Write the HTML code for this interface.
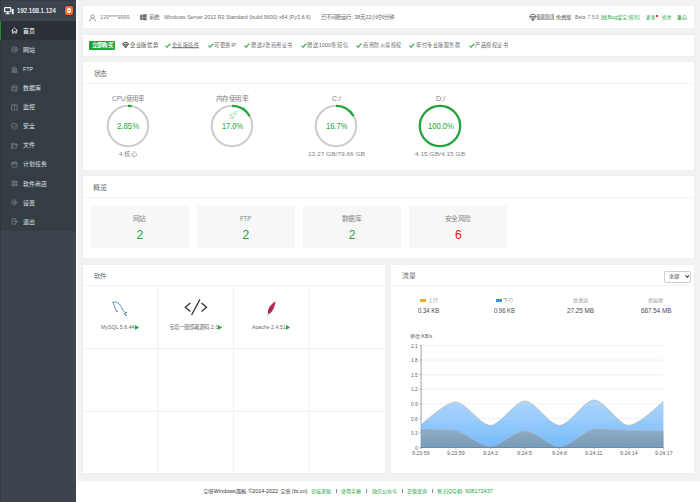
<!DOCTYPE html>
<html lang="zh-CN">
<head>
<meta charset="utf-8">
<title>宝塔Windows面板</title>
<style>
*{box-sizing:border-box;margin:0;padding:0}
html,body{width:700px;height:502px;overflow:hidden;background:#f2f2f2;font-family:"Liberation Sans",sans-serif;color:#666}
body{position:relative;font-size:5.4px;line-height:1}
.abs{position:absolute}
.t{position:absolute;white-space:nowrap;line-height:1;transform-origin:0 50%;text-align:justify;text-align-last:justify}

#side{position:absolute;left:0;top:0;width:76px;height:502px;background:#3c444d}
#side .menu{position:absolute;left:0;top:21.3px;width:76px;height:209.9px;background:#353d44}
#side .cur{position:absolute;left:0;top:21.3px;width:76px;height:19.1px;background:#2c3138;border-left:1.2px solid #20a53a}
.strip{position:absolute;left:76px;top:0;width:2px;height:502px;background:#fbfbfb}
.card{position:absolute;background:#fff;box-shadow:0 .4px 1.2px rgba(0,0,0,.07)}
.hl{position:absolute;height:1px;background:#f4f4f4}
svg{position:absolute;overflow:visible}
</style>
</head>
<body>
<aside aria-label="侧边栏">
<div id="side"><div class="menu"></div><div class="cur"></div><div class="abs" style="left:0;top:0;width:76px;height:1px;background:#353c43"></div><div class="abs" style="left:0;top:0;width:1px;height:502px;background:rgba(0,0,0,.13)"></div></div>
<div class="strip"></div>
<svg style="left:3.9px;top:6.7px" width="9.8" height="7.4" viewBox="0 0 19.6 14.8" fill="none" stroke="#fff" stroke-width="2.300"><rect x="1.200" y="1.200" width="12.400" height="8.400" rx="1.200"/><path d="M3.400 13.600h8M7.400 9.800v3.600"/><rect x="15.600" y="4.200" width="3.600" height="10.400" rx=".6" fill="#fff" stroke="none"/></svg>
<div class="t" style="left:17.2px;top:9.7px;width:44.79px;font-size:7px;color:#fff;transform:translateY(-50%) scaleX(0.867);-webkit-text-stroke:.12px #fff">192.168.1.124</div>
<div class="abs" style="left:64.9px;top:6.1px;width:8.6px;height:8.6px;border-radius:2px;background:#fc6d26;box-shadow:0 0 0 .7px #2b3540"></div>
<div class="abs" style="left:67px;top:8.200px;width:4.400px;height:4.400px;border-radius:50%;background:#fff"></div>
<div class="abs" style="left:68.300px;top:9.900px;width:1.800px;height:1px;border-radius:.5px;background:#fb6a3a"></div>
<div class="t" style="left:23.3px;top:30.9px;width:12.02px;font-size:6px;color:#fff;transform:translateY(-50%) scaleX(0.992);">首页</div>
<div class="t" style="left:23.3px;top:49.98px;width:12.02px;font-size:6px;color:#dfe2e5;transform:translateY(-50%) scaleX(0.992);">网站</div>
<div class="t" style="left:23.3px;top:69.06px;width:11.36px;font-size:6px;color:#dfe2e5;transform:translateY(-50%) scaleX(0.873);">FTP</div>
<div class="t" style="left:23.3px;top:88.14px;width:18.02px;font-size:6px;color:#dfe2e5;transform:translateY(-50%) scaleX(0.989);">数据库</div>
<div class="t" style="left:23.3px;top:107.22px;width:12.02px;font-size:6px;color:#dfe2e5;transform:translateY(-50%) scaleX(0.992);">监控</div>
<div class="t" style="left:23.3px;top:126.3px;width:12.02px;font-size:6px;color:#dfe2e5;transform:translateY(-50%) scaleX(0.992);">安全</div>
<div class="t" style="left:23.3px;top:145.38px;width:12.02px;font-size:6px;color:#dfe2e5;transform:translateY(-50%) scaleX(0.992);">文件</div>
<div class="t" style="left:23.3px;top:164.46px;width:24.02px;font-size:6px;color:#dfe2e5;transform:translateY(-50%) scaleX(0.983);">计划任务</div>
<div class="t" style="left:23.3px;top:183.54px;width:24.02px;font-size:6px;color:#dfe2e5;transform:translateY(-50%) scaleX(0.983);">软件商店</div>
<div class="t" style="left:23.3px;top:202.62px;width:12.02px;font-size:6px;color:#dfe2e5;transform:translateY(-50%) scaleX(0.992);">设置</div>
<div class="t" style="left:23.3px;top:221.7px;width:12.02px;font-size:6px;color:#dfe2e5;transform:translateY(-50%) scaleX(0.992);">退出</div>
<svg style="left:11.300px;top:27.40px" width="7" height="7" viewBox="0 0 14 14" fill="none" stroke="#fff" stroke-width="1.4" stroke-linejoin="round" stroke-linecap="round"><path d="M1.300 7.200 7 1.600 12.700 7.200M3.100 6.200V12.300H5.600V8.800H8.400V12.300H10.900V6.200"/></svg>
<svg style="left:11.300px;top:46.48px" width="7" height="7" viewBox="0 0 14 14" fill="none" stroke="#878d93" stroke-width="1.3" stroke-linejoin="round" stroke-linecap="round"><circle cx="7" cy="7" r="5.700"/><circle cx="7" cy="7" r="2.400"/></svg>
<svg style="left:11.300px;top:65.56px" width="7" height="7" viewBox="0 0 14 14" fill="none" stroke="#878d93" stroke-width="1.3" stroke-linejoin="round" stroke-linecap="round"><path d="M1.500 12.500h11M2.500 10.500h9M3.500 10V6.500M7 10V6.500M10.500 10V6.500M2.500 6h9L7 1.800z"/></svg>
<svg style="left:11.300px;top:84.64px" width="7" height="7" viewBox="0 0 14 14" fill="none" stroke="#878d93" stroke-width="1.3" stroke-linejoin="round" stroke-linecap="round"><rect x="1.600" y="1.600" width="10.800" height="10.800" rx="2.600"/><path d="M3.800 5.200h6.400M3.800 8.800h6.400"/></svg>
<svg style="left:11.300px;top:103.72px" width="7" height="7" viewBox="0 0 14 14" fill="none" stroke="#878d93" stroke-width="1.3" stroke-linejoin="round" stroke-linecap="round"><path stroke-linejoin="miter" d="M1.800 1.800h10.400v10.400H1.800zM7 2v6.200"/></svg>
<svg style="left:11.300px;top:122.80px" width="7" height="7" viewBox="0 0 14 14" fill="none" stroke="#878d93" stroke-width="1.3" stroke-linejoin="round" stroke-linecap="round"><path stroke-linejoin="miter" d="M7 1.200 12.300 2.900V7.400C12.300 10 10 11.900 7 13 4 11.900 1.700 10 1.700 7.400V2.900z"/><path d="M4.600 7l1.900 1.900 3.100-3.600"/></svg>
<svg style="left:11.300px;top:141.88px" width="7" height="7" viewBox="0 0 14 14" fill="none" stroke="#878d93" stroke-width="1.3" stroke-linejoin="round" stroke-linecap="round"><path d="M1.500 11.500v-9h4l1.200 1.600h5.800v1.600M1.500 11.500l1.800-5.800h9.500l-1.800 5.800z"/></svg>
<svg style="left:11.300px;top:160.96px" width="7" height="7" viewBox="0 0 14 14" fill="none" stroke="#878d93" stroke-width="1.3" stroke-linejoin="round" stroke-linecap="round"><rect x="1.800" y="2.800" width="10.400" height="9.400" rx="1.500"/><path d="M1.800 5.800h10.400M4.500 1.500v2.300M9.500 1.500v2.300"/></svg>
<svg style="left:11.300px;top:180.04px" width="7" height="7" viewBox="0 0 14 14" fill="none" stroke="#878d93" stroke-width="1.3" stroke-linejoin="round" stroke-linecap="round"><circle cx="4" cy="4" r="2.300"/><circle cx="10" cy="4" r="2.300"/><circle cx="4" cy="10" r="2.300"/><circle cx="10" cy="10" r="2.300"/></svg>
<svg style="left:11.300px;top:199.12px" width="7" height="7" viewBox="0 0 14 14" fill="none" stroke="#878d93" stroke-width="1.3" stroke-linejoin="round" stroke-linecap="round"><path d="M7 1.300 12.700 7 7 12.700 1.300 7z"/><circle cx="7" cy="7" r="2.200"/></svg>
<svg style="left:11.300px;top:218.20px" width="7" height="7" viewBox="0 0 14 14" fill="none" stroke="#878d93" stroke-width="1.3" stroke-linejoin="round" stroke-linecap="round"><path d="M9 4.200V1.600H2.200v10.800H9V9.800M5.800 7h7M10.800 5l2 2-2 2"/></svg>
</aside>
<header aria-label="系统信息">
<div class="card" style="left:82.8px;top:6px;width:611.0px;height:22px"></div>
<svg style="left:89px;top:13.6px" width="7" height="7.6" viewBox="0 0 14 15.2" fill="none" stroke="#7a7a7a" stroke-width="1.500"><circle cx="7" cy="5" r="3.600"/><path d="M1 14.500c.6-4 3-5.800 6-5.800s5.400 1.800 6 5.800"/></svg>
<div class="t" style="left:99.9px;top:17.6px;width:30.50px;font-size:5.6px;color:#808080;transform:translateY(-50%) scaleX(0.964);">139****9999</div>
<svg style="left:139.6px;top:14.2px" width="6.600" height="6.600" viewBox="0 0 12 12" fill="#6e6e6e"><path d="M0 1.700 4.900 1v4.700H0zM5.500 .9 12 0v5.700H5.500zM0 6.300h4.900V11L0 10.300zM5.500 6.300H12V12l-6.500-.9z"/></svg>
<div class="t" style="left:148.5px;top:17.6px;width:11.52px;font-size:5.4px;color:#6b6b6b;transform:translateY(-50%);">系统:</div>
<div class="t" style="left:163.6px;top:17.6px;width:156.21px;font-size:5.7px;color:#6b6b6b;transform:translateY(-50%) scaleX(0.939);">Windows Server 2012 R2 Standard (build 9600) x64 (Py3.8.6)</div>
<div class="t" style="left:320.8px;top:17.6px;width:73.02px;font-size:5.4px;color:#6b6b6b;transform:translateY(-50%) scaleX(1.007);">已不间断运行: 38天22小时6分钟</div>
<svg style="left:529px;top:13.600px" width="7.800" height="7.400" viewBox="0 0 16 15.600" fill="none" stroke="#6a6a6a" stroke-width="1.800" stroke-linejoin="round"><path d="M4 1h8l3.200 4.200L8 14.500.8 5.200z"/><path d="M.8 5.200h14.400M5.600 5.200 8 14M10.400 5.200 8 14"/></svg>
<div class="abs" style="left:536.6px;top:14.4px;width:17.4px;height:5.800px;background:#a8a8a8;border-radius:.6px"></div>
<div class="t" style="left:538.2px;top:17.4px;width:15.02px;font-size:4.8px;color:#fff;transform:translateY(-50%) scaleX(0.960);">专业版</div>
<div class="t" style="left:556px;top:17.6px;width:15.02px;font-size:5.1px;color:#555;transform:translateY(-50%) scaleX(1.027);">免费版</div>
<div class="t" style="left:575.4px;top:17.6px;width:26.10px;font-size:5.4px;color:#6b6b6b;transform:translateY(-50%) scaleX(0.913);">Beta&nbsp; 7.5.0</div>
<div class="t" style="left:601px;top:17.6px;width:36.93px;font-size:5.1px;color:#20a53a;transform:translateY(-50%) scaleX(1.043);">[找Bug奖宝塔币]</div>
<div class="t" style="left:645.7px;top:17.6px;width:10.02px;font-size:4.8px;color:#20a53a;transform:translateY(-50%) scaleX(0.930);">更新</div>
<div class="abs" style="left:656px;top:15px;width:1.600px;height:1.600px;border-radius:50%;background:#f00"></div>
<div class="t" style="left:661.5px;top:17.6px;width:10.02px;font-size:4.9px;color:#20a53a;transform:translateY(-50%) scaleX(0.970);">修复</div>
<div class="t" style="left:677.3px;top:17.6px;width:10.02px;font-size:4.9px;color:#20a53a;transform:translateY(-50%) scaleX(0.990);">重启</div>
</header>
<section aria-label="企业版优势">
<div class="card" style="left:82.8px;top:34.800px;width:611.0px;height:21.300px"></div>
<div class="abs" style="left:89.2px;top:41.2px;width:25.400px;height:9.100px;background:#20a53a;border-radius:.8px"></div>
<div class="t" style="left:91.5px;top:45.8px;width:20.02px;font-size:5.3px;color:#fff;transform:translateY(-50%) scaleX(1.045);font-weight:bold">立即购买</div>
<svg style="left:121.700px;top:41.900px" width="7.200" height="6.400" viewBox="0 0 16 15.600" fill="none" stroke="#555" stroke-width="2.300" stroke-linejoin="round"><path d="M4 1h8l3.200 4.200L8 14.500.8 5.200z"/><path d="M.8 5.200h14.400M5.600 5.200 8 14M10.400 5.200 8 14"/></svg>
<div class="t" style="left:130.4px;top:45.7px;width:30.02px;font-size:5.7px;color:#555;transform:translateY(-50%) scaleX(0.950);">企业版优势</div>
<svg style="left:165.3px;top:42.900px" width="5.800" height="5" viewBox="0 0 12 10.400" fill="none" stroke="#20a53a" stroke-width="2.200"><path d="M1 5.600 4.300 9 11 1.200"/></svg>
<div class="t" style="left:172.1px;top:45.7px;width:30.02px;font-size:5.5px;color:#6b6b6b;transform:translateY(-50%) scaleX(0.907);text-decoration:underline;text-decoration-thickness:.35px;text-underline-offset:.3px">企业版插件</div>
<svg style="left:207.5px;top:42.900px" width="5.800" height="5" viewBox="0 0 12 10.400" fill="none" stroke="#20a53a" stroke-width="2.200"><path d="M1 5.600 4.300 9 11 1.200"/></svg>
<div class="t" style="left:213.9px;top:45.7px;width:23.22px;font-size:5.5px;color:#6b6b6b;transform:translateY(-50%) scaleX(0.952);">可更换IP</div>
<svg style="left:243.9px;top:42.900px" width="5.800" height="5" viewBox="0 0 12 10.400" fill="none" stroke="#20a53a" stroke-width="2.200"><path d="M1 5.600 4.300 9 11 1.200"/></svg>
<div class="t" style="left:250.8px;top:45.7px;width:45.08px;font-size:5.5px;color:#6b6b6b;transform:translateY(-50%) scaleX(0.928);">赠送2张商用证书</div>
<svg style="left:300.7px;top:42.900px" width="5.800" height="5" viewBox="0 0 12 10.400" fill="none" stroke="#20a53a" stroke-width="2.200"><path d="M1 5.600 4.300 9 11 1.200"/></svg>
<div class="t" style="left:307.1px;top:45.7px;width:42.27px;font-size:5.5px;color:#6b6b6b;transform:translateY(-50%) scaleX(0.989);">赠送1000条短信</div>
<svg style="left:355.7px;top:42.900px" width="5.800" height="5" viewBox="0 0 12 10.400" fill="none" stroke="#20a53a" stroke-width="2.200"><path d="M1 5.600 4.300 9 11 1.200"/></svg>
<div class="t" style="left:362.9px;top:45.7px;width:42.02px;font-size:5.5px;color:#6b6b6b;transform:translateY(-50%) scaleX(0.917);">商用防火墙授权</div>
<svg style="left:409.4px;top:42.900px" width="5.800" height="5" viewBox="0 0 12 10.400" fill="none" stroke="#20a53a" stroke-width="2.200"><path d="M1 5.600 4.300 9 11 1.200"/></svg>
<div class="t" style="left:416.3px;top:45.7px;width:48.02px;font-size:5.5px;color:#6b6b6b;transform:translateY(-50%) scaleX(0.923);">年付专业版服务群</div>
<svg style="left:468.6px;top:42.900px" width="5.800" height="5" viewBox="0 0 12 10.400" fill="none" stroke="#20a53a" stroke-width="2.200"><path d="M1 5.600 4.300 9 11 1.200"/></svg>
<div class="t" style="left:474.9px;top:45.7px;width:36.02px;font-size:5.5px;color:#6b6b6b;transform:translateY(-50%) scaleX(0.936);">产品授权证书</div>
</section>
<section aria-label="状态">
<div class="card" style="left:82.8px;top:62.200px;width:611.0px;height:107.700px"></div>
<div class="hl" style="left:82.8px;top:82.500px;width:611.0px"></div>
<div class="t" style="left:93.5px;top:73.9px;width:12.02px;font-size:6.4px;color:#666;transform:translateY(-50%) scaleX(1.067);">状态</div>
<svg style="left:106.4px;top:103.85px" width="44" height="44" viewBox="-22 -22 44 44" fill="none"><circle r="20.2" stroke="#cdcdcd" stroke-width="2.1"/><path d="M0 -20.2A20.2 20.2 0 0 1 3.60 -19.88" stroke="#20a53a" stroke-width="2.200"/></svg>
<svg style="left:210.3px;top:103.85px" width="44" height="44" viewBox="-22 -22 44 44" fill="none"><circle r="20.2" stroke="#cdcdcd" stroke-width="2.1"/><path d="M0 -20.2A20.2 20.2 0 0 1 17.70 -9.73" stroke="#20a53a" stroke-width="2.200"/></svg>
<svg style="left:314.4px;top:103.85px" width="44" height="44" viewBox="-22 -22 44 44" fill="none"><circle r="20.2" stroke="#cdcdcd" stroke-width="2.1"/><path d="M0 -20.2A20.2 20.2 0 0 1 17.51 -10.06" stroke="#20a53a" stroke-width="2.200"/></svg>
<svg style="left:418.4px;top:103.85px" width="44" height="44" viewBox="-22 -22 44 44" fill="none"><circle r="20.2" stroke="#cdcdcd" stroke-width="2.1"/><circle r="20.2" stroke="#20a53a" stroke-width="2.200"/></svg>
<div class="t" style="left:112.2px;top:98.9px;width:31.32px;font-size:6.3px;color:#858585;transform:translateY(-50%) scaleX(1.026);">CPU使用率</div>
<div class="t" style="left:216px;top:98.9px;width:30.02px;font-size:6.3px;color:#858585;transform:translateY(-50%) scaleX(1.077);">内存使用率</div>
<div class="t" style="left:332px;top:98.9px;width:8.07px;font-size:6.3px;color:#858585;transform:translateY(-50%) scaleX(1.106);">C:/</div>
<div class="t" style="left:435.7px;top:98.9px;width:8.07px;font-size:6.3px;color:#858585;transform:translateY(-50%) scaleX(1.168);">D:/</div>
<div class="t" style="left:117.1px;top:126.1px;width:24.97px;font-size:8.8px;color:#20a53a;transform:translateY(-50%) scaleX(0.886);">2.85%</div>
<div class="t" style="left:222px;top:126.1px;width:24.97px;font-size:8.8px;color:#20a53a;transform:translateY(-50%) scaleX(0.842);">17.0%</div>
<div class="t" style="left:325.7px;top:126.1px;width:24.97px;font-size:8.8px;color:#20a53a;transform:translateY(-50%) scaleX(0.858);">16.7%</div>
<div class="t" style="left:427.7px;top:126.1px;width:29.86px;font-size:8.8px;color:#20a53a;transform:translateY(-50%) scaleX(0.861);">100.0%</div>
<div class="t" style="left:119px;top:153.7px;width:17.04px;font-size:6px;color:#858585;transform:translateY(-50%) scaleX(1.064);">4 核心</div>
<div class="t" style="left:308px;top:153.7px;width:52.40px;font-size:6px;color:#858585;transform:translateY(-50%) scaleX(1.086);">13.27 GB/79.66 GB</div>
<div class="t" style="left:415.1px;top:153.7px;width:45.72px;font-size:6px;color:#858585;transform:translateY(-50%) scaleX(1.094);">4.15 GB/4.15 GB</div>
<svg style="left:228.6px;top:111px" width="8.800" height="8.400" viewBox="0 0 18 17" fill="none" stroke="#8fd19c" stroke-width="1.100" stroke-linejoin="round"><path d="M16.500 .8c-4-.2-7.500 2-10 6l-1 2.200 2.800 2.800 2.200-1c4-2.500 6.200-6 6-10z"/><path d="M6.500 6.800 3 7l-2 2.500 3.500.5M10.200 10.800l-.2 3.500-2.500 2-.5-3.500M4.500 11.500l-2.500 4 4-2.500"/><circle cx="11.800" cy="5.400" r="1.300"/></svg>
</section>
<section aria-label="概览">
<div class="card" style="left:82.8px;top:176.300px;width:611.0px;height:81.700px"></div>
<div class="hl" style="left:82.8px;top:196.500px;width:611.0px"></div>
<div class="t" style="left:93.3px;top:187.5px;width:12.02px;font-size:6.4px;color:#666;transform:translateY(-50%) scaleX(1.100);">概览</div>
<div class="abs" style="left:91px;top:205.700px;width:97.700px;height:42.300px;background:#f7f7f7"></div>
<div class="t" style="left:133.4px;top:218.6px;width:12.02px;font-size:6.3px;color:#858585;transform:translateY(-50%) scaleX(1.075);">网站</div>
<div class="t" style="left:136.55px;top:234.6px;font-size:12px;color:#20a53a;transform:translateY(-50%);">2</div>
<div class="abs" style="left:197px;top:205.700px;width:97.700px;height:42.300px;background:#f7f7f7"></div>
<div class="t" style="left:240.25px;top:218.6px;width:11.93px;font-size:6.3px;color:#858585;transform:translateY(-50%) scaleX(0.941);">FTP</div>
<div class="t" style="left:242.55px;top:234.6px;font-size:12px;color:#20a53a;transform:translateY(-50%);">2</div>
<div class="abs" style="left:303.2px;top:205.700px;width:97.700px;height:42.300px;background:#f7f7f7"></div>
<div class="t" style="left:342.4px;top:218.6px;width:18.02px;font-size:6.3px;color:#858585;transform:translateY(-50%) scaleX(1.072);">数据库</div>
<div class="t" style="left:348.75px;top:234.6px;font-size:12px;color:#20a53a;transform:translateY(-50%);">2</div>
<div class="abs" style="left:409.4px;top:205.700px;width:97.700px;height:42.300px;background:#f7f7f7"></div>
<div class="t" style="left:445.4px;top:218.6px;width:24.02px;font-size:6.3px;color:#858585;transform:translateY(-50%) scaleX(1.071);">安全风险</div>
<div class="t" style="left:454.95px;top:234.6px;font-size:12px;color:#ef0808;transform:translateY(-50%);">6</div>
</section>
<section aria-label="软件">
<div class="card" style="left:82.8px;top:264.900px;width:301.900px;height:208.400px"></div>
<div class="hl" style="left:82.8px;top:285.400px;width:301.900px"></div>
<div class="t" style="left:93.5px;top:275.6px;width:12.02px;font-size:6.2px;color:#666;transform:translateY(-50%) scaleX(1.033);">软件</div>
<svg style="left:0;top:0" width="700" height="502" viewBox="0 0 700 502" fill="none" stroke="#eeedfc" stroke-width="1"><path d="M158.1 286.400V473.300"/><path d="M233.6 286.400V473.300"/><path d="M309.1 286.400V473.300"/><path d="M82.800 348.65H384.700"/><path d="M82.800 411.3H384.700"/></svg>
<svg style="left:0;top:0" width="700" height="502" viewBox="0 0 700 502" fill="none"><g stroke="#3f7da8" stroke-width=".85" stroke-linecap="round" stroke-linejoin="round"><path d="M112.900 302.400C113.900 301.500 116.600 301.500 119.100 303.900C120.800 305.600 121.500 307.400 122.200 308.800C122.900 310.200 123.600 311.400 124.600 312.100C125.400 312.600 126.400 312.700 127.100 312.400L125.500 313.300L124.800 313.900C125.400 314.700 126.200 315.300 126.900 315.800C125.700 315.400 124.800 314.700 124.200 313.500"/><path d="M112.900 302.400C113.400 303.300 114 304.500 114.400 305.800C114.900 307.500 115.300 309.200 116 310.300L117 310.500L117.500 311.700L116.300 311.100"/></g><g stroke="#333" stroke-width="1.350" stroke-linejoin="miter"><path d="M190.300 303 185.300 307.250 190.300 311.500M199.900 299.500 191.600 315M201.500 303 206.500 307.250 201.500 311.500"/></g><defs><linearGradient id="fg" gradientUnits="userSpaceOnUse" x1="275.800" y1="301.400" x2="268" y2="314"><stop offset="0" stop-color="#e8b040"/><stop offset=".1" stop-color="#d05038"/><stop offset=".22" stop-color="#c22a4c"/><stop offset=".8" stop-color="#ae2558"/><stop offset="1" stop-color="#8a3070"/></linearGradient></defs><path d="M275.900 301.300C275.700 302.300 275.400 303.300 275.060 304.350C274.600 305.900 274.200 307.300 273.500 308.700C272.700 310.300 271.900 311.600 270.700 312.700C270 313.300 269.200 313.700 268.300 313.900C267.900 313 267.800 312 267.900 311.100C268.100 309.900 268.500 308.700 269.100 307.500C269.900 306.100 270.800 305 271.900 303.950C272.800 303.100 273.700 302.400 274.700 301.800z" fill="url(#fg)"/><path d="M268.600 313.500 267.300 315.600" stroke="#777" stroke-width=".6"/></svg>
<div class="t" style="left:100.9px;top:328.4px;width:35.58px;font-size:5.6px;color:#6b6b6b;transform:translateY(-50%) scaleX(0.942);">MySQL 5.6.44</div>
<svg style="left:135px;top:325.300px" width="4.100" height="4.800" viewBox="0 0 7 8"><path d="M0 0 7 4 0 8z" fill="#20a53a"/></svg>
<div class="t" style="left:168.5px;top:328.4px;width:49.02px;font-size:5.4px;color:#6b6b6b;transform:translateY(-50%) scaleX(1.008);">宝塔一键部署源码 2.0</div>
<svg style="left:218.4px;top:325.300px" width="4.100" height="4.800" viewBox="0 0 7 8"><path d="M0 0 7 4 0 8z" fill="#20a53a"/></svg>
<div class="t" style="left:252.1px;top:328.4px;width:36.10px;font-size:5.6px;color:#6b6b6b;transform:translateY(-50%) scaleX(0.929);">Apache 2.4.51</div>
<svg style="left:286.3px;top:325.300px" width="4.100" height="4.800" viewBox="0 0 7 8"><path d="M0 0 7 4 0 8z" fill="#20a53a"/></svg>
</section>
<section aria-label="流量">
<div class="card" style="left:391px;top:264.900px;width:302.8px;height:208.400px"></div>
<div class="hl" style="left:391px;top:285.400px;width:302.8px"></div>
<div class="t" style="left:401.8px;top:275.6px;width:12.02px;font-size:6.3px;color:#666;transform:translateY(-50%) scaleX(1.092);">流量</div>
<div class="abs" style="left:664.100px;top:270.600px;width:27.400px;height:12.500px;background:#fff;border:.7px solid #cfcfcf;border-radius:1.200px"></div>
<div class="t" style="left:668.5px;top:276.7px;width:10.02px;font-size:5.1px;color:#333;transform:translateY(-50%) scaleX(1.020);">全部</div>
<svg style="left:684.900px;top:275.400px" width="4.600" height="2.900" viewBox="0 0 10 6.400" fill="none" stroke="#333" stroke-width="2.300"><path d="M1 1l4 4 4-4"/></svg>
<div class="abs" style="left:420.100px;top:299.100px;width:6.400px;height:2.800px;background:#f5a828"></div>
<div class="t" style="left:427.9px;top:300.5px;width:10.02px;font-size:5.1px;color:#999;transform:translateY(-50%) scaleX(1.030);">上行</div>
<div class="abs" style="left:496px;top:299.100px;width:6.200px;height:2.800px;background:#3493f8"></div>
<div class="t" style="left:503.3px;top:300.5px;width:10.02px;font-size:5.1px;color:#999;transform:translateY(-50%) scaleX(1.030);">下行</div>
<div class="t" style="left:572.7px;top:300.5px;width:15.02px;font-size:5.1px;color:#999;transform:translateY(-50%) scaleX(1.020);">总发送</div>
<div class="t" style="left:648.1px;top:300.5px;width:15.02px;font-size:5.1px;color:#999;transform:translateY(-50%) scaleX(1.020);">总接收</div>
<div class="t" style="left:418.3px;top:310.8px;width:24.21px;font-size:6.8px;color:#4a4a4a;transform:translateY(-50%) scaleX(0.876);">0.34 KB</div>
<div class="t" style="left:494.2px;top:310.8px;width:24.21px;font-size:6.8px;color:#4a4a4a;transform:translateY(-50%) scaleX(0.860);">0.96 KB</div>
<div class="t" style="left:566.7px;top:310.8px;width:29.11px;font-size:6.8px;color:#4a4a4a;transform:translateY(-50%) scaleX(0.928);">27.25 MB</div>
<div class="t" style="left:640.6px;top:310.8px;width:32.90px;font-size:6.8px;color:#4a4a4a;transform:translateY(-50%) scaleX(0.925);">687.54 MB</div>
<div class="t" style="left:410.3px;top:336.2px;width:21.97px;font-size:5px;color:#555;transform:translateY(-50%) scaleX(1.011);">单位:KB/s</div>
<svg style="left:0;top:0" width="700" height="502" viewBox="0 0 700 502" fill="none"><defs><linearGradient id="gb" x1="0" y1="0" x2="0" y2="1"><stop offset="0" stop-color="#add6fc"/><stop offset="1" stop-color="#76bafb"/></linearGradient><linearGradient id="go" x1="0" y1="0" x2="0" y2="1"><stop offset="0" stop-color="#8eabc4"/><stop offset="1" stop-color="#789ab8"/></linearGradient></defs><path d="M421.1 433.10H663.4" stroke="#ececec" stroke-width=".8"/><path d="M421.1 418.50H663.4" stroke="#ececec" stroke-width=".8"/><path d="M421.1 403.90H663.4" stroke="#ececec" stroke-width=".8"/><path d="M421.1 389.30H663.4" stroke="#ececec" stroke-width=".8"/><path d="M421.1 374.70H663.4" stroke="#ececec" stroke-width=".8"/><path d="M421.1 360.10H663.4" stroke="#ececec" stroke-width=".8"/><path d="M421.1 345.50H663.4" stroke="#ececec" stroke-width=".8"/><path d="M419.5 447.70H421.1" stroke="#666" stroke-width=".5"/><path d="M419.5 433.10H421.1" stroke="#666" stroke-width=".5"/><path d="M419.5 418.50H421.1" stroke="#666" stroke-width=".5"/><path d="M419.5 403.90H421.1" stroke="#666" stroke-width=".5"/><path d="M419.5 389.30H421.1" stroke="#666" stroke-width=".5"/><path d="M419.5 374.70H421.1" stroke="#666" stroke-width=".5"/><path d="M419.5 360.10H421.1" stroke="#666" stroke-width=".5"/><path d="M419.5 345.50H421.1" stroke="#666" stroke-width=".5"/><path d="M421.10 424.83C421.10 424.83 445.71 401.95 455.71 401.95C465.79 402.02 480.36 425.31 490.33 425.31C500.43 425.17 514.90 400.98 524.94 400.98C534.98 400.98 549.59 425.31 559.56 425.31C569.66 425.17 584.13 400.01 594.17 400.01C604.21 400.01 618.68 425.17 628.79 425.31C638.76 425.31 663.40 400.98 663.40 400.98V447.7H421.1Z" fill="url(#gb)"/><path d="M421.10 424.83C421.10 424.83 445.71 401.95 455.71 401.95C465.79 402.02 480.36 425.31 490.33 425.31C500.43 425.17 514.90 400.98 524.94 400.98C534.98 400.98 549.59 425.31 559.56 425.31C569.66 425.17 584.13 400.01 594.17 400.01C604.21 400.01 618.68 425.17 628.79 425.31C638.76 425.31 663.40 400.98 663.40 400.98" stroke="#c2ad94" stroke-width=".55"/><path d="M421.10 429.69C421.10 429.69 446.15 429.69 455.71 430.91C466.22 433.50 480.28 446.69 490.33 446.73C500.35 446.73 514.93 431.15 524.94 431.15C535.01 431.22 549.63 447.21 559.56 447.21C569.71 446.93 583.54 431.71 594.17 429.21C603.62 429.21 618.74 430.63 628.79 430.91C638.82 431.15 663.40 431.15 663.40 431.15V447.7H421.1Z" fill="url(#go)"/><path d="M421.10 429.69C421.10 429.69 446.15 429.69 455.71 430.91C466.22 433.50 480.28 446.69 490.33 446.73C500.35 446.73 514.93 431.15 524.94 431.15C535.01 431.22 549.63 447.21 559.56 447.21C569.71 446.93 583.54 431.71 594.17 429.21C603.62 429.21 618.74 430.63 628.79 430.91C638.82 431.15 663.40 431.15 663.40 431.15" stroke="#b0a394" stroke-width=".55"/><path d="M421.1 433.10H663.4" stroke="#fff" stroke-opacity=".13" stroke-width=".8"/><path d="M421.1 418.50H663.4" stroke="#fff" stroke-opacity=".13" stroke-width=".8"/><path d="M421.1 403.90H663.4" stroke="#fff" stroke-opacity=".13" stroke-width=".8"/><path d="M421.1 345.50V424.83" stroke="#666" stroke-width=".6"/><path d="M421.1 424.83V447.7" stroke="#6a96c2" stroke-width=".7"/><path d="M420.8 447.5H663.6999999999999" stroke="#5a86b0" stroke-width=".8"/><path d="M421.10 447.7v1.600" stroke="#666" stroke-width=".5"/><path d="M455.71 447.7v1.600" stroke="#666" stroke-width=".5"/><path d="M490.33 447.7v1.600" stroke="#666" stroke-width=".5"/><path d="M524.94 447.7v1.600" stroke="#666" stroke-width=".5"/><path d="M559.56 447.7v1.600" stroke="#666" stroke-width=".5"/><path d="M594.17 447.7v1.600" stroke="#666" stroke-width=".5"/><path d="M628.79 447.7v1.600" stroke="#666" stroke-width=".5"/><path d="M663.40 447.7v1.600" stroke="#666" stroke-width=".5"/></svg>
<div class="t" style="left:414.9px;top:447.7px;font-size:5px;color:#666;transform:translateY(-50%) scaleX(1.007);">0</div>
<div class="t" style="left:410.9px;top:433.1px;width:6.97px;font-size:5px;color:#666;transform:translateY(-50%) scaleX(0.978);">0.3</div>
<div class="t" style="left:410.9px;top:418.5px;width:6.97px;font-size:5px;color:#666;transform:translateY(-50%) scaleX(0.978);">0.6</div>
<div class="t" style="left:410.9px;top:403.9px;width:6.97px;font-size:5px;color:#666;transform:translateY(-50%) scaleX(0.978);">0.9</div>
<div class="t" style="left:410.9px;top:389.3px;width:6.97px;font-size:5px;color:#666;transform:translateY(-50%) scaleX(0.978);">1.2</div>
<div class="t" style="left:410.9px;top:374.7px;width:6.97px;font-size:5px;color:#666;transform:translateY(-50%) scaleX(0.978);">1.5</div>
<div class="t" style="left:410.9px;top:360.1px;width:6.97px;font-size:5px;color:#666;transform:translateY(-50%) scaleX(0.978);">1.8</div>
<div class="t" style="left:410.9px;top:345.5px;width:6.97px;font-size:5px;color:#666;transform:translateY(-50%) scaleX(0.978);">2.1</div>
<div class="t" style="left:412.3px;top:453.3px;width:16.71px;font-size:5px;color:#666;transform:translateY(-50%) scaleX(1.055);">9:23:56</div>
<div class="t" style="left:446.91px;top:453.3px;width:16.71px;font-size:5px;color:#666;transform:translateY(-50%) scaleX(1.055);">9:23:59</div>
<div class="t" style="left:482.83px;top:453.3px;width:13.93px;font-size:5px;color:#666;transform:translateY(-50%) scaleX(1.079);">9:24:2</div>
<div class="t" style="left:517.44px;top:453.3px;width:13.93px;font-size:5px;color:#666;transform:translateY(-50%) scaleX(1.079);">9:24:5</div>
<div class="t" style="left:552.06px;top:453.3px;width:13.93px;font-size:5px;color:#666;transform:translateY(-50%) scaleX(1.079);">9:24:8</div>
<div class="t" style="left:585.37px;top:453.3px;width:16.33px;font-size:5px;color:#666;transform:translateY(-50%) scaleX(1.079);">9:24:11</div>
<div class="t" style="left:619.99px;top:453.3px;width:16.71px;font-size:5px;color:#666;transform:translateY(-50%) scaleX(1.055);">9:24:14</div>
<div class="t" style="left:654.6px;top:453.3px;width:16.71px;font-size:5px;color:#666;transform:translateY(-50%) scaleX(1.055);">9:24:17</div>
</section>
<footer aria-label="页脚">
<div class="abs" style="left:76px;top:480.700px;width:624px;height:21.300px;background:#fff"></div>
<div class="t" style="left:202.9px;top:491.3px;width:96.24px;font-size:5px;color:#333;transform:translateY(-50%) scaleX(1.083);">宝塔Windows面板 ©2014-2022 宝塔 (bt.cn)</div>
<div class="t" style="left:311.4px;top:491.3px;width:20.02px;font-size:5px;color:#20a53a;transform:translateY(-50%);">论坛求助</div>
<div class="t" style="left:341.4px;top:491.3px;width:20.02px;font-size:5px;color:#20a53a;transform:translateY(-50%);">使用手册</div>
<div class="t" style="left:371.9px;top:491.3px;width:25.02px;font-size:5px;color:#20a53a;transform:translateY(-50%) scaleX(1.004);">微信公众号</div>
<div class="t" style="left:407.1px;top:491.3px;width:20.02px;font-size:5px;color:#20a53a;transform:translateY(-50%);">正版查询</div>
<div class="t" style="left:437.1px;top:491.3px;width:50.61px;font-size:5px;color:#20a53a;transform:translateY(-50%) scaleX(1.103);">售后QQ群: 608172437</div>
<div class="abs" style="left:336.05px;top:488.90000000000003px;width:.5px;height:4.600px;background:#889"></div>
<div class="abs" style="left:366.35px;top:488.90000000000003px;width:.5px;height:4.600px;background:#889"></div>
<div class="abs" style="left:401.75px;top:488.90000000000003px;width:.5px;height:4.600px;background:#889"></div>
<div class="abs" style="left:432.05px;top:488.90000000000003px;width:.5px;height:4.600px;background:#889"></div>
</footer>
</body>
</html>
